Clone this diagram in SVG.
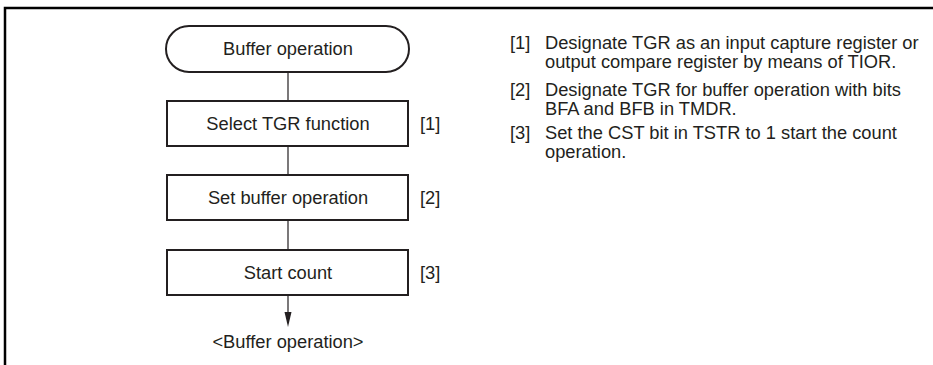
<svg xmlns="http://www.w3.org/2000/svg" width="933" height="365" viewBox="0 0 933 365">
<style>
text{font-family:"Liberation Sans",Arial,sans-serif;font-size:18.3px;fill:#231f20}
.c{text-anchor:middle}
.box{fill:#fff;stroke:#231f20;stroke-width:2}
.ln{stroke:#231f20;stroke-width:1.2;fill:none}
.frame{stroke:#000;stroke-width:2.5;fill:none}
</style>
<path class="frame" d="M5,365 V8 H933"/>
<g id="connectors">
<line class="ln" x1="288" y1="72" x2="288" y2="101"/>
<line class="ln" x1="288" y1="146" x2="288" y2="175"/>
<line class="ln" x1="288" y1="220" x2="288" y2="250"/>
<line class="ln" x1="288" y1="295" x2="288" y2="312"/>
<path d="M284.5,312 L291.5,312 L288,327 Z" fill="#231f20"/>
</g>
<g id="start">
<rect class="box" x="166" y="26" width="243" height="46" rx="23" ry="23"/>
<text class="c" x="288" y="55">Buffer operation</text>
</g>
<g id="step1">
<rect class="box" x="167" y="101" width="241" height="45"/>
<text class="c" x="288" y="130">Select TGR function</text>
<text x="420" y="130">[1]</text>
</g>
<g id="step2">
<rect class="box" x="167" y="175" width="241" height="45"/>
<text class="c" x="288" y="204">Set buffer operation</text>
<text x="420" y="204">[2]</text>
</g>
<g id="step3">
<rect class="box" x="167" y="250" width="241" height="45"/>
<text class="c" x="288" y="279">Start count</text>
<text x="420" y="279">[3]</text>
</g>
<g id="end">
<text class="c" x="288" y="348">&lt;Buffer operation&gt;</text>
</g>
<g id="notes">
<text x="510" y="49">[1]</text>
<text x="545" y="49">Designate TGR as an input capture register or</text>
<text x="545" y="68">output compare register by means of TIOR.</text>
<text x="510" y="96">[2]</text>
<text x="545" y="96">Designate TGR for buffer operation with bits</text>
<text x="545" y="115">BFA and BFB in TMDR.</text>
<text x="510" y="139">[3]</text>
<text x="545" y="139">Set the CST bit in TSTR to 1 start the count</text>
<text x="545" y="158">operation.</text>
</g>
</svg>
